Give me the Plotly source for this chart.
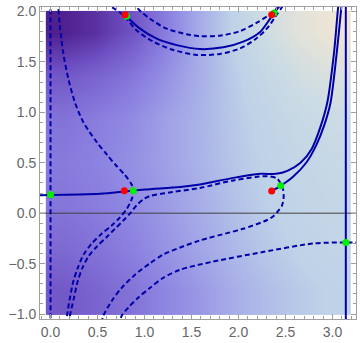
import plotly.graph_objects as go

# ---------------- background density ----------------
x_grid = [0.13, 0.49, 0.85, 1.21, 1.57, 1.93, 2.29, 2.65, 3.01]
y_grid = [-0.79, -0.36, 0.07, 0.5, 0.93, 1.36, 1.79]
z_grid = [
    [0.23, 0.28, 0.34, 0.41, 0.48, 0.56, 0.62, 0.67, 0.71],
    [0.30, 0.34, 0.39, 0.46, 0.53, 0.60, 0.66, 0.71, 0.74],
    [0.35, 0.38, 0.43, 0.49, 0.56, 0.63, 0.69, 0.74, 0.77],
    [0.37, 0.40, 0.45, 0.51, 0.58, 0.65, 0.71, 0.76, 0.79],
    [0.34, 0.38, 0.43, 0.51, 0.58, 0.66, 0.73, 0.80, 0.84],
    [0.23, 0.28, 0.35, 0.45, 0.56, 0.67, 0.78, 0.87, 0.91],
    [0.04, 0.10, 0.21, 0.37, 0.55, 0.70, 0.86, 0.94, 0.99],
]
colorscale = [
    [0.0, "rgb(72,20,130)"],
    [0.2, "rgb(110,80,195)"],
    [0.4, "rgb(140,130,225)"],
    [0.55, "rgb(165,170,232)"],
    [0.7, "rgb(190,210,232)"],
    [0.85, "rgb(205,220,228)"],
    [1.0, "rgb(240,230,212)"],
]

# ---------------- solid contour curves ----------------
solid_low_x = [-0.15, 0.0, 0.3, 0.53, 0.785, 1.0, 1.38, 1.59, 1.945, 2.23, 2.40, 2.52, 2.66, 2.78, 2.87, 2.945, 3.016, 3.06, 3.07]
solid_low_y = [0.178, 0.18, 0.185, 0.193, 0.215, 0.235, 0.26, 0.285, 0.35, 0.39, 0.39, 0.42, 0.50, 0.64, 0.85, 1.1, 1.59, 2.04, 2.1]

solid_right_x = [2.353, 2.449, 2.58, 2.72, 2.83, 2.915, 2.98, 3.045, 3.094, 3.10]
solid_right_y = [0.22, 0.271, 0.36, 0.50, 0.68, 0.88, 1.1, 1.59, 2.04, 2.1]

solid_pi_x = [3.14159, 3.14159]
solid_pi_y = [-1.2, 2.2]

solid_arc_x = [0.80, 0.952, 1.13, 1.343, 1.59, 1.838, 2.05, 2.23, 2.335, 2.378, 2.44, 2.47]
solid_arc_y = [1.958, 1.83, 1.73, 1.666, 1.627, 1.644, 1.70, 1.797, 1.927, 1.985, 2.057, 2.1]

# ---------------- dashed contour curves ----------------
dash_zero_x = [0.0, 0.0]
dash_zero_y = [-1.2, 2.2]

dash_a_x = [0.08, 0.083, 0.10, 0.136, 0.19, 0.26, 0.35, 0.49, 0.60, 0.70, 0.79, 0.86, 0.888,
            0.856, 0.81, 0.739, 0.651, 0.544, 0.438, 0.349, 0.289, 0.243, 0.207, 0.176, 0.17]
dash_a_y = [2.1, 2.04, 1.85, 1.585, 1.33, 1.098, 0.90, 0.707, 0.58, 0.47, 0.38, 0.29, 0.22,
            0.122, 0.041, -0.041, -0.122, -0.203, -0.301, -0.415, -0.545, -0.675, -0.837, -1.017, -1.1]

dash_e_x = [0.20, 0.207, 0.250, 0.289, 0.338, 0.402, 0.491, 0.598, 0.686, 0.775, 0.856, 0.917, 0.988, 1.059,
            1.3, 1.59, 1.945, 2.30, 2.41, 2.47, 2.48, 2.46, 2.42, 2.37, 2.30, 2.05, 1.91, 1.59, 1.38, 1.2,
            1.059, 0.899, 0.757, 0.651, 0.562, 0.54]
dash_e_y = [-1.1, -1.017, -0.837, -0.675, -0.545, -0.431, -0.333, -0.236, -0.154, -0.073, 0.008, 0.080, 0.138, 0.171,
            0.21, 0.25, 0.325, 0.366, 0.343, 0.25, 0.155, 0.07, 0.02, -0.03, -0.07, -0.155, -0.19, -0.27, -0.34, -0.41,
            -0.496, -0.61, -0.74, -0.87, -1.017, -1.1]

dash_c_x = [3.30, 3.1416, 2.80, 2.26, 1.73, 1.38, 1.2, 1.059, 0.934, 0.828, 0.757, 0.73]
dash_c_y = [-0.29, -0.29, -0.30, -0.385, -0.48, -0.56, -0.64, -0.74, -0.837, -0.935, -1.017, -1.1]

dash_upper_x = [0.88, 0.934, 1.059, 1.236, 1.449, 1.59, 1.80, 2.016, 2.19, 2.317, 2.39, 2.43]
dash_upper_y = [2.1, 2.024, 1.927, 1.829, 1.774, 1.754, 1.76, 1.805, 1.886, 1.959, 2.008, 2.1]

dash_lower_x = [0.60, 0.633, 0.739, 0.81, 0.917, 1.094, 1.306, 1.555, 1.803, 2.016, 2.19, 2.317, 2.388, 2.46, 2.49]
dash_lower_y = [2.1, 2.057, 1.99, 1.927, 1.812, 1.70, 1.618, 1.569, 1.579, 1.634, 1.732, 1.846, 1.943, 2.04, 2.1]

# ---------------- points ----------------
green_x = [0.81, 2.378, 0.0, 0.881, 2.449, 3.1416]
green_y = [1.953, 1.985, 0.183, 0.222, 0.271, -0.29]
red_x = [0.793, 2.353, 0.785, 2.353]
red_y = [1.966, 1.966, 0.222, 0.22]

# ---------------- axes ----------------
x_ticks = [0.0, 0.5, 1.0, 1.5, 2.0, 2.5, 3.0]
y_ticks = [-1.0, -0.5, 0.0, 0.5, 1.0, 1.5, 2.0]
x_range = [-0.112, 3.25]
y_range = [-1.049, 2.044]

LINE = "#0000a8"
fig = go.Figure()
fig.add_trace(go.Heatmap(x=x_grid, y=y_grid, z=z_grid, colorscale=colorscale, zmin=0, zmax=1,
                         zsmooth="best", showscale=False, hoverinfo="skip"))
fig.add_trace(go.Scatter(x=[x_range[0] - 1, x_range[1] + 1], y=[0, 0], mode="lines",
                         line=dict(color="#404040", width=1), hoverinfo="skip"))

for xs, ys in [(dash_zero_x, dash_zero_y), (dash_a_x, dash_a_y), (dash_e_x, dash_e_y),
               (dash_c_x, dash_c_y), (dash_upper_x, dash_upper_y), (dash_lower_x, dash_lower_y)]:
    fig.add_trace(go.Scatter(x=xs, y=ys, mode="lines",
                             line=dict(color=LINE, width=2, dash="5px,3px", shape="spline", smoothing=0.8),
                             hoverinfo="skip"))
for xs, ys in [(solid_low_x, solid_low_y), (solid_right_x, solid_right_y), (solid_pi_x, solid_pi_y),
               (solid_arc_x, solid_arc_y)]:
    fig.add_trace(go.Scatter(x=xs, y=ys, mode="lines",
                             line=dict(color=LINE, width=2, shape="spline", smoothing=0.8), hoverinfo="skip"))

fig.add_trace(go.Scatter(x=green_x, y=green_y, mode="markers",
                         marker=dict(color="#00ee00", size=7, line=dict(width=0))))
fig.add_trace(go.Scatter(x=red_x, y=red_y, mode="markers",
                         marker=dict(color="#ff0000", size=7, line=dict(width=0))))

axis_common = dict(showgrid=False, zeroline=False, showline=True, linecolor="#a0a0a0", linewidth=1,
                   mirror="ticks", ticks="inside", ticklen=5, tickcolor="#a0a0a0", tickwidth=1,
                   tickformat=".1f", tickfont=dict(family="Liberation Sans", size=14, color="#666666"),
                   minor=dict(dtick=0.1, tick0=0, ticks="inside", ticklen=3, tickcolor="#a0a0a0", tickwidth=1))

fig.update_layout(
    width=360, height=343, showlegend=False,
    margin=dict(l=40, r=4, t=3, b=23),
    paper_bgcolor="white", plot_bgcolor="white",
    xaxis=dict(range=x_range, tickmode="array", tickvals=x_ticks, **axis_common),
    yaxis=dict(range=y_range, tickmode="array", tickvals=y_ticks, **axis_common),
)
fig.write_html("out.html", config={"displayModeBar": False},
               post_script="document.body.style.margin='0';")
